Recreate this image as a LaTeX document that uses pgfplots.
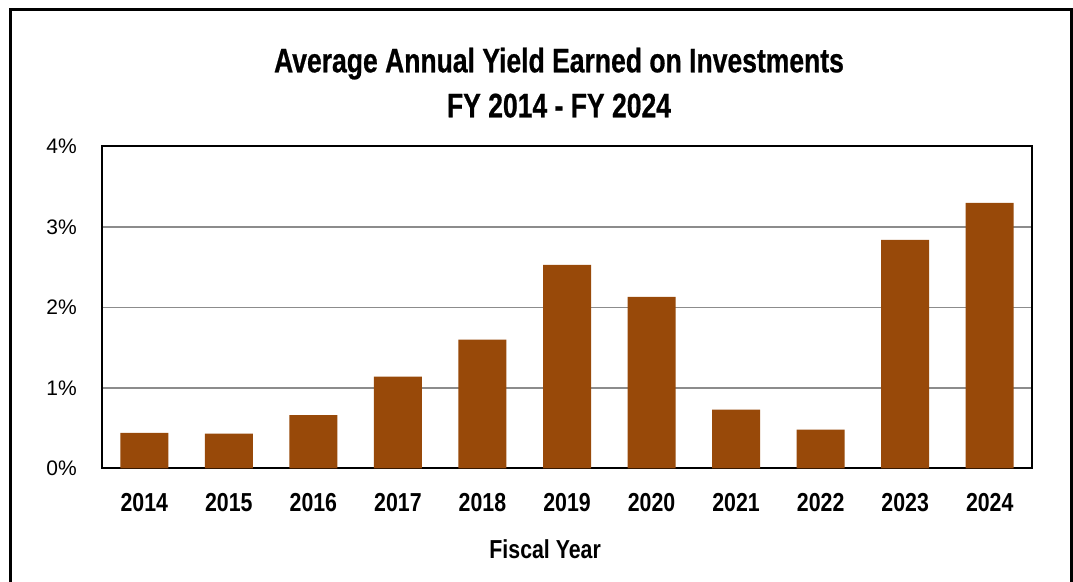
\documentclass[border=0pt]{standalone}
\usepackage{pgfplots}
\pgfplotsset{compat=1.18}
\usepackage{fontspec}
\setmainfont{Liberation Sans}
\newfontfamily\nb[FakeStretch=0.82]{Liberation Sans}
\newfontfamily\tb[FakeStretch=0.78,FakeBold=0.6]{Liberation Sans}
\definecolor{barc}{HTML}{984909}
\definecolor{gridc}{HTML}{8C8C8C}
\begin{document}
\begin{tikzpicture}[x=1bp,y=1bp]
\useasboundingbox (0,0) rectangle (1073,582);
\fill[white] (0,0) rectangle (1073,582);
\draw[line width=3bp] (10,-10) -- (10,572) -- (1071,572) -- (1071,-10);
\node[anchor=north, inner sep=0pt, align=center, font=\tb\bfseries\fontsize{34bp}{45bp}\selectfont] at (559bp,534.5bp) {Average Annual Yield Earned on Investments\\FY 2014 - FY 2024};
\begin{axis}[
  at={(102bp,113.7bp)}, anchor=south west,
  scale only axis, width=930bp, height=321.8bp,
  xmin=-0.5, xmax=10.5, ymin=0, ymax=4,
  ybar, bar width=48bp,
  xtick=data,
  xticklabels={2014,2015,2016,2017,2018,2019,2020,2021,2022,2023,2024},
  ytick={0,1,2,3,4},
  yticklabels={0\%,1\%,2\%,3\%,4\%},
  major tick length=0pt,
  ymajorgrids,
  major grid style={gridc, line width=1.5bp},
  axis line style={line width=2bp, black},
  yticklabel style={font=\fontsize{21bp}{25bp}\selectfont, inner sep=0pt, anchor=east, xshift=-25bp},
  xticklabel style={font=\nb\bfseries\fontsize{26bp}{30bp}\selectfont, inner sep=0pt, anchor=north, yshift=-24.7bp},
  xlabel={Fiscal Year},
  xlabel style={font=\nb\bfseries\fontsize{26bp}{30bp}\selectfont, inner sep=0pt, anchor=north, at={(rel axis cs:0.4765,0)}, yshift=-70.7bp},
]
\addplot[fill=barc, draw=none, bar shift=0pt] coordinates {
(0,0.44) (1,0.43) (2,0.66) (3,1.14) (4,1.60) (5,2.53) (6,2.13) (7,0.73) (8,0.48) (9,2.84) (10,3.30)
};
\end{axis}
\end{tikzpicture}
\end{document}
